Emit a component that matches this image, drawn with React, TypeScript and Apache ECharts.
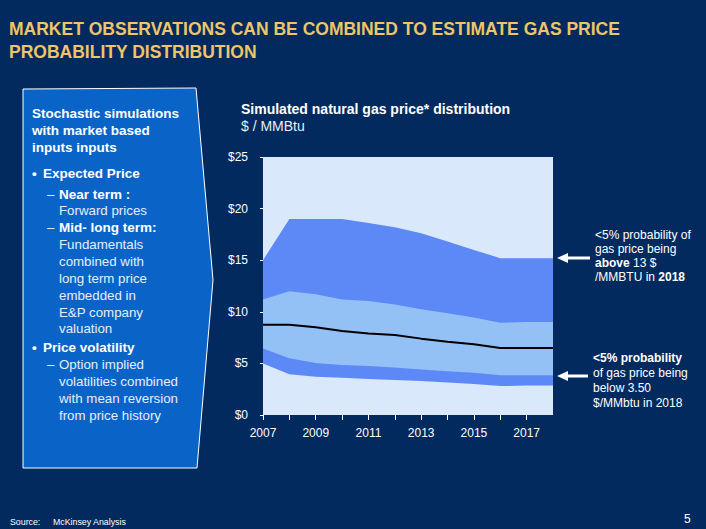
import React, { useEffect, useRef } from "react";
import * as echarts from "echarts";

const years = [2007, 2008, 2009, 2010, 2011, 2012, 2013, 2014, 2015, 2016, 2017, 2018];
const upper95 = [15.0, 19.0, 19.0, 19.0, 18.6, 18.2, 17.6, 16.8, 16.0, 15.2, 15.2, 15.2];
const upper75 = [11.2, 12.0, 11.7, 11.2, 11.05, 10.7, 10.25, 9.85, 9.45, 8.95, 9.0, 9.0];
const median = [8.75, 8.75, 8.5, 8.15, 7.9, 7.75, 7.4, 7.1, 6.85, 6.5, 6.5, 6.5];
const lower25 = [6.45, 5.5, 5.05, 4.85, 4.75, 4.6, 4.4, 4.25, 4.1, 3.85, 3.85, 3.85];
const lower95 = [5.0, 3.95, 3.7, 3.6, 3.5, 3.4, 3.3, 3.15, 3.0, 2.8, 2.85, 2.85];
const yTicks = [0, 5, 10, 15, 20, 25];

const NAVY = "#022a5e";
const PLOT_BG = "#dae8fb";
const DARK = "#5d89f6";
const LIGHT = "#93c1f5";
const GOLD = "#f0c468";
const FONT = "Liberation Sans, Arial, sans-serif";

const pairs = (vals: number[]) => years.map((y, i) => [y, vals[i]]);

type Line = { t: string; x: number; y: number; b?: boolean };
const boxLines: Line[] = [
  { t: "Stochastic simulations", x: 32, y: 113, b: true },
  { t: "with market based", x: 32, y: 130, b: true },
  { t: "inputs inputs", x: 32, y: 147, b: true },
  { t: "•", x: 32, y: 173, b: true },
  { t: "Expected Price", x: 43, y: 173, b: true },
  { t: "–", x: 47, y: 194 },
  { t: "Near term :", x: 59, y: 194, b: true },
  { t: "Forward prices", x: 59, y: 210 },
  { t: "–", x: 47, y: 227 },
  { t: "Mid- long term:", x: 59, y: 227, b: true },
  { t: "Fundamentals", x: 59, y: 244 },
  { t: "combined with", x: 59, y: 261 },
  { t: "long term price", x: 59, y: 278 },
  { t: "embedded in", x: 59, y: 295 },
  { t: "E&P company", x: 59, y: 312 },
  { t: "valuation", x: 59, y: 328 },
  { t: "•", x: 32, y: 347, b: true },
  { t: "Price volatility", x: 43, y: 347, b: true },
  { t: "–", x: 47, y: 364 },
  { t: "Option implied", x: 59, y: 364 },
  { t: "volatilities combined", x: 59, y: 381 },
  { t: "with mean reversion", x: 59, y: 398 },
  { t: "from price history", x: 59, y: 415 },
];

const textEl = (t: string, x: number, y: number, size: number, bold: boolean, fill: string, align = "left") => ({
  type: "text",
  x,
  y,
  silent: true,
  style: {
    text: t,
    fill,
    fontSize: size,
    fontWeight: bold ? "bold" : "normal",
    fontFamily: FONT,
    textAlign: align,
    textVerticalAlign: "middle",
  },
});

const arrow = (x: number, y: number, len: number) => ({
  type: "group",
  silent: true,
  children: [
    { type: "polygon", shape: { points: [[x, y], [x + 11, y - 5], [x + 11, y + 5]] }, style: { fill: "#ffffff" } },
    { type: "rect", shape: { x: x + 10, y: y - 1.5, width: len - 10, height: 3 }, style: { fill: "#ffffff" } },
  ],
});

export default function App() {
  const ref = useRef<HTMLDivElement>(null);
  useEffect(() => {
    if (!ref.current) return;
    const chart = echarts.init(ref.current, undefined, { renderer: "svg" });
    const areaSeries = (name: string, vals: number[], color: string) => ({
      name,
      type: "line",
      data: pairs(vals),
      symbol: "none",
      lineStyle: { width: 0, color },
      itemStyle: { color },
      areaStyle: { color, opacity: 1 },
      silent: true,
    });
    const graphics: any[] = [
      textEl("MARKET OBSERVATIONS CAN BE COMBINED TO ESTIMATE GAS PRICE", 9, 29, 17.5, true, GOLD),
      textEl("PROBABILITY DISTRIBUTION", 9, 52, 17.5, true, GOLD),
      {
        type: "polygon",
        silent: true,
        shape: { points: [[23, 89], [196, 88], [213, 280], [197, 468], [23, 468]] },
        style: { fill: "#0a64c8", stroke: "#ffffff", lineWidth: 1 },
      },
      ...boxLines.map((l) => textEl(l.t, l.x, l.y, l.b ? 13.5 : 13.3, !!l.b, l.b ? "#ffffff" : "#e6eefa")),
      textEl("Simulated natural gas price* distribution", 241, 109, 14, true, "#ffffff"),
      textEl("$ / MMBtu", 241, 126, 14, false, "#e6eefa"),
      arrow(557, 258, 33),
      arrow(557, 376, 31),
      {
        type: "text",
        x: 595,
        y: 228,
        silent: true,
        style: {
          text: "{n|<5% probability of}\n{n|gas price being}\n{b|above}{n| 13 $}\n{n|/MMBTU in }{b|2018}",
          fontFamily: FONT,
          fill: "#ffffff",
          rich: {
            n: { fontSize: 12, fontFamily: FONT, fill: "#ffffff", lineHeight: 14 },
            b: { fontSize: 12, fontFamily: FONT, fontWeight: "bold", fill: "#ffffff", lineHeight: 14 },
          },
        },
      },
      {
        type: "text",
        x: 593,
        y: 350,
        silent: true,
        style: {
          text: "{b|<5% probability}\n{n|of gas price being}\n{n|below 3.50}\n{n|$/MMbtu in 2018}",
          fontFamily: FONT,
          fill: "#ffffff",
          rich: {
            n: { fontSize: 12, fontFamily: FONT, fill: "#ffffff", lineHeight: 15 },
            b: { fontSize: 12, fontFamily: FONT, fontWeight: "bold", fill: "#ffffff", lineHeight: 15 },
          },
        },
      },
      textEl("Source:", 10, 522, 8.8, false, "#ffffff"),
      textEl("McKinsey Analysis", 53, 522, 8.8, false, "#ffffff"),
      textEl("5", 684, 519, 12, false, "#ffffff"),
    ];
    chart.setOption({
      animation: false,
      backgroundColor: NAVY,
      grid: {
        left: 263,
        top: 157,
        width: 290,
        height: 258,
        show: true,
        backgroundColor: PLOT_BG,
        borderWidth: 0,
      },
      xAxis: {
        type: "value",
        min: 2007,
        max: 2018,
        interval: 1,
        splitLine: { show: false },
        axisLine: { show: false },
        axisTick: { show: true, length: 5, lineStyle: { color: "#ffffff", width: 1 } },
        axisLabel: {
          color: "#ffffff",
          fontSize: 12,
          fontFamily: FONT,
          margin: 12,
          showMaxLabel: false,
          formatter: (v: number) => (v % 2 === 1 ? String(v) : ""),
        },
      },
      yAxis: {
        type: "value",
        min: yTicks[0],
        max: yTicks[yTicks.length - 1],
        interval: 5,
        splitLine: { show: false },
        axisLine: { show: false },
        axisTick: { show: true, length: 3, lineStyle: { color: "#ffffff", width: 1 } },
        axisLabel: {
          color: "#ffffff",
          fontSize: 12,
          fontFamily: FONT,
          margin: 15,
          formatter: (v: number) => "$" + v,
        },
      },
      series: [
        areaSeries("upper95", upper95, DARK),
        areaSeries("upper75", upper75, LIGHT),
        areaSeries("lower25", lower25, DARK),
        areaSeries("lower95", lower95, PLOT_BG),
        {
          name: "median",
          type: "line",
          data: pairs(median),
          symbol: "none",
          silent: true,
          lineStyle: { color: "#000000", width: 2 },
        },
      ],
      graphic: graphics,
    });
    return () => chart.dispose();
  }, []);
  return <div ref={ref} style={{ position: "fixed", left: 0, top: 0, width: 706, height: 529 }} />;
}
